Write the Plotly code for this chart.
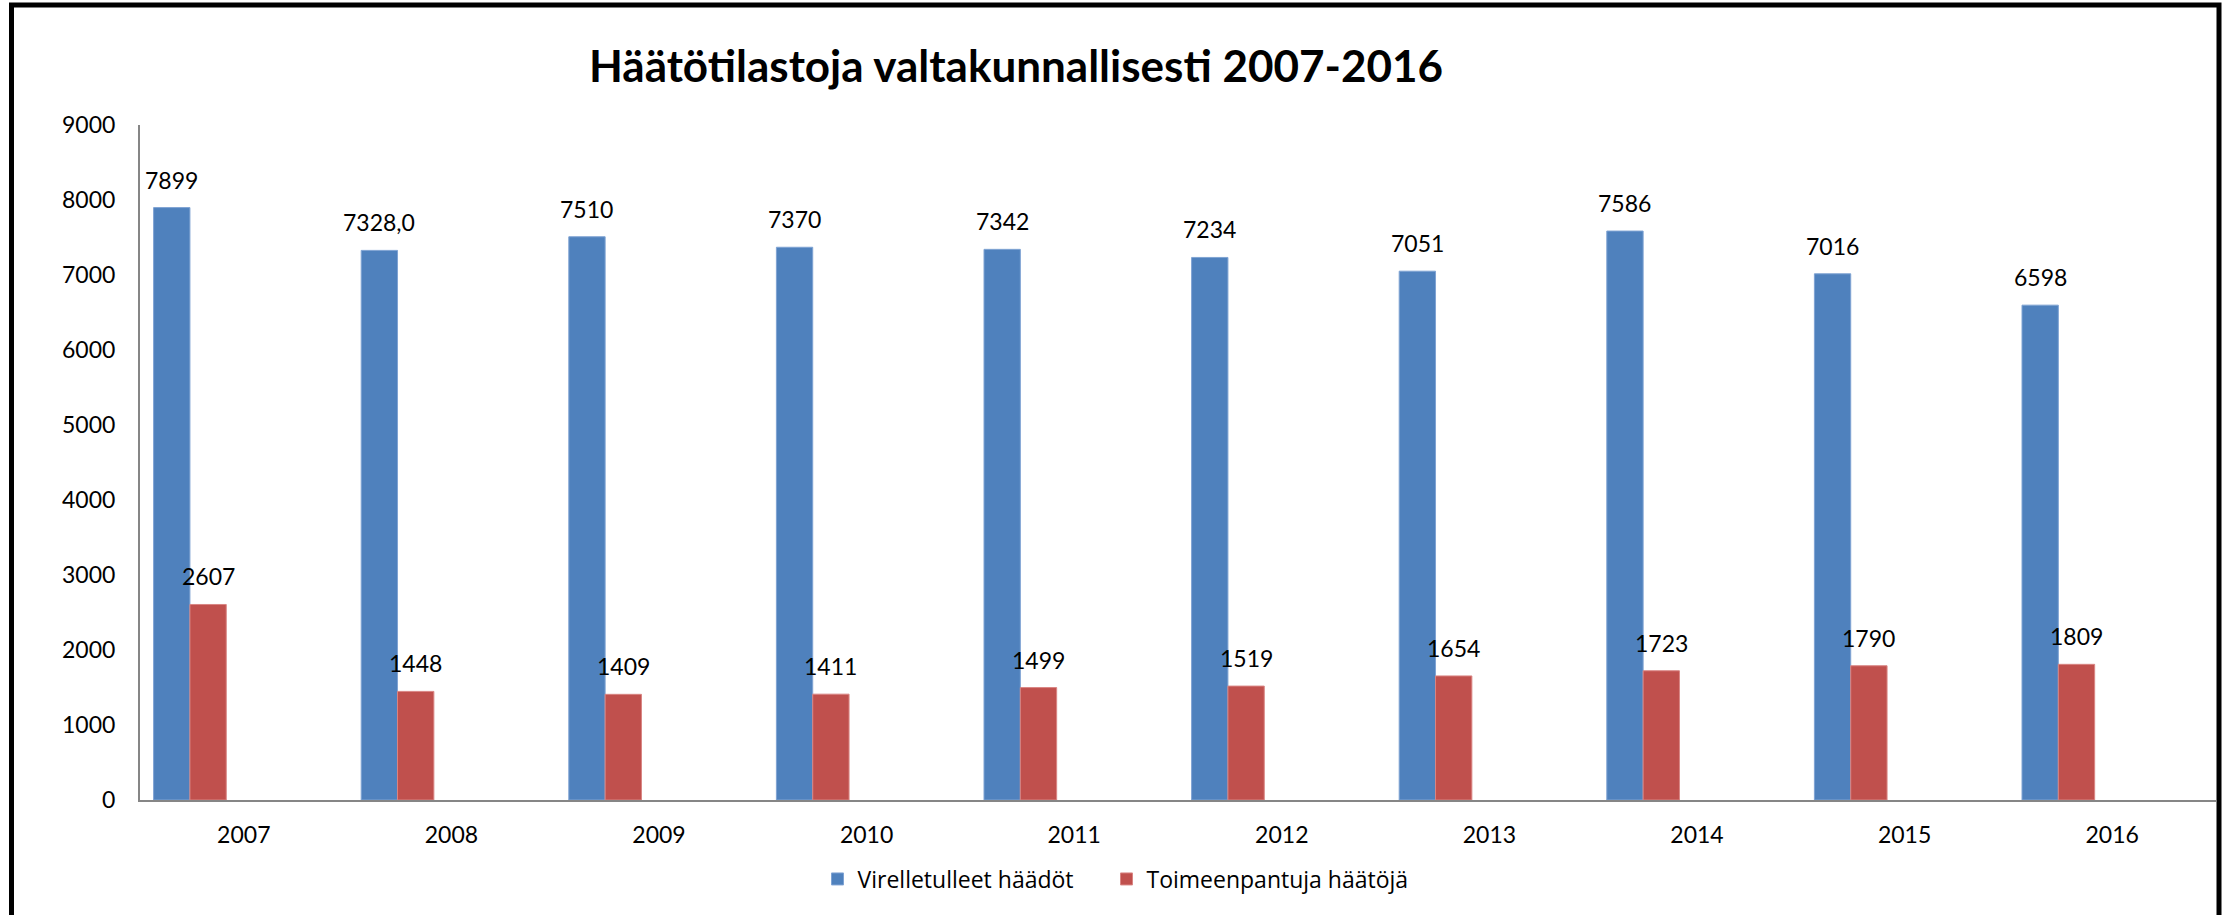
import plotly.graph_objects as go

years = ["2007", "2008", "2009", "2010", "2011", "2012", "2013", "2014", "2015", "2016"]
virelletulleet = [7899, 7328.0, 7510, 7370, 7342, 7234, 7051, 7586, 7016, 6598]
virelletulleet_labels = ["7899", "7328,0", "7510", "7370", "7342", "7234", "7051", "7586", "7016", "6598"]
toimeenpantuja = [2607, 1448, 1409, 1411, 1499, 1519, 1654, 1723, 1790, 1809]
toimeenpantuja_labels = [str(v) for v in toimeenpantuja]
y_ticks = [0, 1000, 2000, 3000, 4000, 5000, 6000, 7000, 8000, 9000]

BLUE = "#4F81BD"
RED = "#C0504D"
FONT = "Lato"

W, H = 2231, 915
ML, MR, MT, MB = 140, 15, 125, 115
plot_w = W - ML - MR
plot_h = H - MT - MB

bar_w = 0.175
off_blue = -0.4345
off_red = off_blue + bar_w

fig = go.Figure()
fig.add_trace(go.Bar(
    x=years, y=virelletulleet, name="Virelletulleet häädöt",
    marker=dict(color=BLUE, line=dict(color="#7FA3D3", width=1)),
    width=bar_w, offset=off_blue, legend="legend",
))
fig.add_trace(go.Bar(
    x=years, y=toimeenpantuja, name="Toimeenpantuja häätöjä",
    marker=dict(color=RED, line=dict(color="#D98583", width=1)),
    width=bar_w, offset=off_red, legend="legend2",
))

annotations = []
for vals, labels, off in ((virelletulleet, virelletulleet_labels, off_blue),
                          (toimeenpantuja, toimeenpantuja_labels, off_red)):
    for i, (v, t) in enumerate(zip(vals, labels)):
        annotations.append(dict(
            x=i + off + bar_w / 2, y=v, xref="x", yref="y", text=t, showarrow=False,
            xanchor="center", yanchor="bottom", yshift=12,
            font=dict(family=FONT, size=23, color="#000000"),
        ))

def px_to_paper_x(px):
    return (px - ML) / plot_w

def px_to_paper_y(py):
    return (H - MB - py) / plot_h

# outer frame
fig.add_shape(
    type="rect", xref="paper", yref="paper",
    x0=px_to_paper_x(11.5), x1=px_to_paper_x(2219),
    y0=px_to_paper_y(940), y1=px_to_paper_y(5),
    line=dict(color="#000000", width=5), fillcolor="rgba(0,0,0,0)",
    layer="above",
)

legend_style = dict(
    orientation="h", xanchor="left", yanchor="middle",
    y=px_to_paper_y(879),
    font=dict(family="Open Sans", size=23, color="#000000"),
    bgcolor="rgba(0,0,0,0)",
)

fig.update_layout(
    width=W, height=H,
    margin=dict(l=ML, r=MR, t=MT, b=MB, pad=0),
    paper_bgcolor="white", plot_bgcolor="white",
    barmode="overlay",
    font=dict(family=FONT, size=23, color="#000000"),
    title=dict(
        text="<b>Häätötilastoja valtakunnallisesti 2007-2016</b>",
        x=1016 / W, xanchor="center", y=1 - 67 / H, yanchor="middle",
        xref="container", yref="container",
        font=dict(family=FONT, size=44, color="#000000"),
    ),
    xaxis=dict(
        type="category", categoryorder="array", categoryarray=years,
        range=[-0.5, len(years) - 0.5],
        showline=True, linecolor="#868686", linewidth=2,
        showgrid=False, zeroline=False, ticks="",
        ticklabelstandoff=13,
        tickfont=dict(family=FONT, size=23, color="#000000"),
    ),
    yaxis=dict(
        range=[0, 9000], tickvals=y_ticks, ticktext=[str(t) for t in y_ticks],
        showline=True, linecolor="#868686", linewidth=2,
        showgrid=False, zeroline=False, ticks="",
        ticklabelstandoff=18,
        tickfont=dict(family=FONT, size=23, color="#000000"),
    ),
    legend=dict(x=px_to_paper_x(817.5), **legend_style),
    legend2=dict(x=px_to_paper_x(1106.5), **legend_style),
    annotations=annotations,
    showlegend=True,
)

fig.write_html("out.html")
